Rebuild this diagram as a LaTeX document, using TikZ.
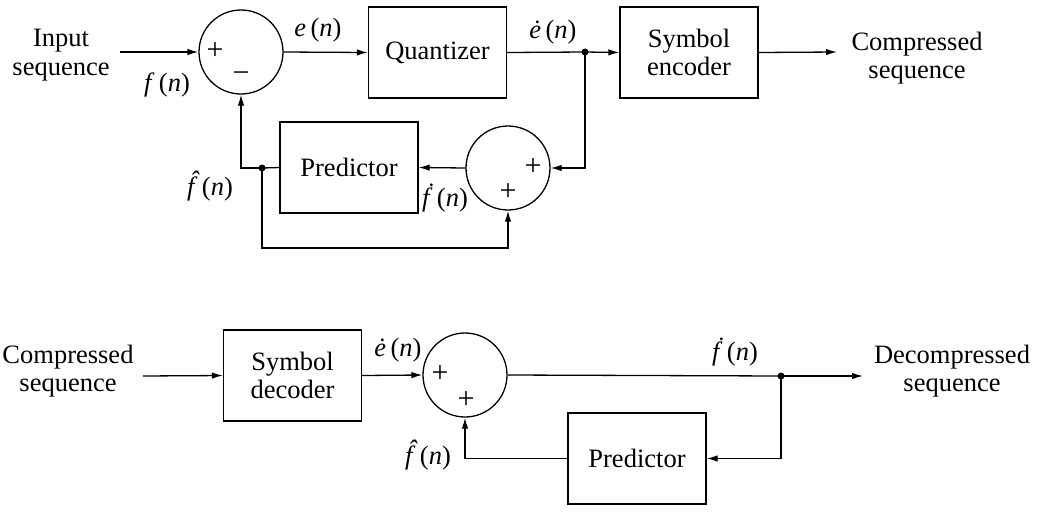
\documentclass[tikz,border=0pt]{standalone}
\usepackage{fontspec}
\setmainfont{Liberation Serif}
\usetikzlibrary{arrows.meta}
\newcommand\fhatx{\textit{f}\hspace{-0.1em}\makebox[0pt]{\raisebox{0.2em}{\textit{ˆ}}}\hspace{0.1em}}
\newcommand\fdotx{\textit{f}\hspace{-0.1em}\makebox[0pt]{\raisebox{0.2em}{\textit{˙}}}\hspace{0.1em}}
\begin{document}
\begin{tikzpicture}[x=1pt,y=-1pt,
  every node/.style={font=\fontsize{26.5}{28.5}\selectfont, inner sep=0pt},
  blk/.style={draw, line width=1.3pt, minimum width=138pt, minimum height=91pt, align=center},
  sumc/.style={draw, circle, line width=1.3pt, minimum size=84pt},
  wire/.style={line width=1.3pt},
  arr/.style={wire, -{Latex[length=11pt,width=6.5pt]}},
  junc/.style={circle, fill=black, minimum size=7pt},
  lbl/.style={align=center},
  sgn/.style={font=\fontsize{30}{30}\selectfont}
]
\useasboundingbox (0,0) rectangle (1037,512);
% ---------- encoder ----------
\node[lbl] (in1) at (61,55) {Input\\sequence};
\coordinate (s1) at (120,52);
\node[sumc] (c1) at (241,52) {};
\node[sgn] (p1) at (215,51) {+};
\node[sgn] (m1) at (241,77) {−};
\node[blk] (quant) at (437.5,52.5) {Quantizer};
\node[junc] (d1) at (585,52) {};
\node[blk] (enc) at (689,52.5) {Symbol\\encoder};
\coordinate (e1) at (837,52);
\node[lbl] (out1) at (917,58) {Compressed\\sequence};
\node[sumc] (c2) at (508,168) {};
\node[sgn] (p2) at (533,167) {+};
\node[sgn] (p3) at (508,192) {+};
\node[blk] (pred1) at (349,167.5) {Predictor};
\node[junc] (d2) at (262,168) {};
\coordinate (b1) at (262,248);
\node (lf) at (167,85) {\textit{f}\,(\textit{n})};
\node (le) at (318,30) {\textit{e}\,(\textit{n})};
\node (led) at (553,32) {\textit{ė}\,(\textit{n})};
\node (lfh) at (210,186) {\fhatx\,(\textit{n})};
\node (lfd) at (445,198) {\fdotx\,(\textit{n})};
\draw[arr] (s1) -- (c1.west);
\draw[arr] (c1.east) -- (quant.west);
\draw[wire] (quant.east) -- (d1.center);
\draw[arr] (d1.center) -- (enc.west);
\draw[arr] (enc.east) -- (e1);
\draw[arr] (d1.center) |- (c2.east);
\draw[arr] (c2.west) -- (pred1.east);
\draw[wire] (pred1.west) -- (d2.center);
\draw[arr] (d2.center) -| (c1.south);
\draw[arr] (d2.center) -- (b1) -| (c2.south);
% ---------- decoder ----------
\node[lbl] (in2) at (68,371) {Compressed\\sequence};
\coordinate (s2) at (143,376);
\node[blk] (dec) at (292.5,375.5) {Symbol\\decoder};
\node[sumc] (c3) at (465,375) {};
\node[sgn] (p4) at (440,374) {+};
\node[sgn] (p5) at (466,400) {+};
\node[junc] (d3) at (781,376) {};
\coordinate (e2) at (863,376);
\node[lbl] (out2) at (952,371) {Decompressed\\sequence};
\node[blk] (pred2) at (637,458.5) {Predictor};
\node (led2) at (398,350) {\textit{ė}\,(\textit{n})};
\node (lfd2) at (735,352) {\fdotx\,(\textit{n})};
\node (lfh2) at (428,455) {\fhatx\,(\textit{n})};
\draw[arr] (s2) -- (dec.west);
\draw[arr] (dec.east) -- (c3.west);
\draw[wire] (c3.east) -- (d3.center);
\draw[arr] (d3.center) -- (e2);
\draw[arr] (d3.center) |- (pred2.east);
\draw[arr] (pred2.west) -| (c3.south);
\end{tikzpicture}
\end{document}
